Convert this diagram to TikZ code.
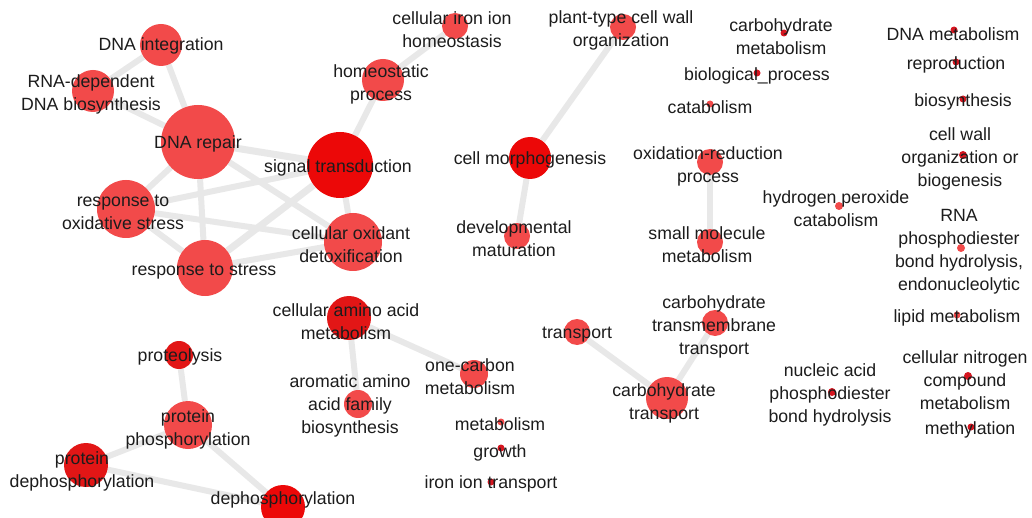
\documentclass[tikz,border=0pt]{standalone}
\usepackage{fontspec}
\setmainfont{Liberation Sans}
\usetikzlibrary{backgrounds}
\definecolor{lred}{RGB}{242,74,74}
\definecolor{dred}{RGB}{236,8,8}
\definecolor{mred}{RGB}{226,22,22}
\definecolor{sred}{RGB}{214,22,32}
\definecolor{edgegray}{RGB}{232,232,232}
\definecolor{txt}{RGB}{28,28,28}
\begin{document}
\begin{tikzpicture}[x=1pt,y=-1pt,
  bub/.style={circle,inner sep=0pt,minimum size=2*#1,fill=lred},
  dk/.style={fill=dred},
  md/.style={fill=mred},
  sm/.style={fill=sred},
  lbl/.style={text=txt,align=center,inner sep=0pt,yshift=-2pt,font=\fontsize{17.7}{23}\selectfont},
  edge/.style={draw=edgegray,line width=6pt}]
\useasboundingbox (0,0) rectangle (1032,518);
% bubbles
\node[bub=21] (dnaint) at (161,45) {};
\node[bub=21] (rnadep) at (93,91) {};
\node[bub=37] (dnarep) at (198,142) {};
\node[bub=33,dk] (sigtr) at (340,165) {};
\node[bub=21] (homeo) at (383,80) {};
\node[bub=13] (ironh) at (455,26) {};
\node[bub=13] (plant) at (623,27) {};
\node[bub=21,dk] (cellm) at (530,158) {};
\node[bub=13] (devm) at (517,236) {};
\node[bub=29] (respox) at (126,209) {};
\node[bub=28] (resps) at (205,268) {};
\node[bub=29] (oxdet) at (353,242) {};
\node[bub=13] (oxred) at (710,162) {};
\node[bub=13] (smallm) at (710,242) {};
\node[bub=3.5,sm] (carbm) at (784,33) {};
\node[bub=3.5,sm] (biop) at (757,73) {};
\node[bub=3.5] (catab) at (710,104) {};
\node[bub=4] (hperox) at (839,206) {};
\node[bub=3.5,sm] (dnamet) at (954,30) {};
\node[bub=3.5,sm] (repro) at (956,62) {};
\node[bub=3.5,sm] (biosyn) at (963,99) {};
\node[bub=4,sm] (cwall) at (963,155) {};
\node[bub=4] (rnaph) at (961,248) {};
\node[bub=3.5] (lipid) at (957,315) {};
\node[bub=4,sm] (cnitro) at (968,376) {};
\node[bub=3.5,sm] (methyl) at (971,427) {};
\node[bub=4,sm] (nucph) at (832,392) {};
\node[bub=13] (carbtm) at (715,323) {};
\node[bub=13] (transp) at (577,332) {};
\node[bub=21] (carbtr) at (667,398) {};
\node[bub=14] (onec) at (474,374) {};
\node[bub=3.5] (metab) at (501,422) {};
\node[bub=3.5,sm] (growth) at (501,448) {};
\node[bub=3.5,sm] (irontr) at (491,482) {};
\node[bub=22,md] (aaa) at (349,318) {};
\node[bub=14] (arom) at (358,404) {};
\node[bub=14,md] (prote) at (179,355) {};
\node[bub=24] (protph) at (188,425) {};
\node[bub=22,md] (protdeph) at (86,465) {};
\node[bub=22,dk] (deph) at (283,507) {};
% edges
\begin{scope}[on background layer]
\fill[white] (0,0) rectangle (1032,518);
\draw[edge] (dnaint) -- (dnarep);
\draw[edge] (rnadep) -- (dnarep);
\draw[edge] (rnadep) -- (dnaint);
\draw[edge,line width=7pt] (dnarep) -- (sigtr);
\draw[edge] (dnarep) -- (respox);
\draw[edge] (dnarep) -- (resps);
\draw[edge] (dnarep) -- (oxdet);
\draw[edge] (respox) -- (sigtr);
\draw[edge] (respox) -- (oxdet);
\draw[edge] (respox) -- (resps);
\draw[edge,line width=7pt] (resps) -- (sigtr);
\draw[edge] (resps) -- (oxdet);
\draw[edge] (sigtr) -- (oxdet);
\draw[edge] (sigtr) -- (homeo);
\draw[edge] (homeo) -- (ironh);
\draw[edge] (cellm) -- (plant);
\draw[edge] (cellm) -- (devm);
\draw[edge] (oxred) -- (smallm);
\draw[edge] (aaa) -- (arom);
\draw[edge] (aaa) -- (onec);
\draw[edge] (transp) -- (carbtr);
\draw[edge] (carbtm) -- (carbtr);
\draw[edge] (prote) -- (protph);
\draw[edge] (protph) -- (protdeph);
\draw[edge] (protph) -- (deph);
\draw[edge] (protdeph) -- (deph);
\end{scope}
% labels
\node[lbl] (dnaint-l) at (161,44) {DNA integration};
\node[lbl] (rnadep-l) at (91,92) {RNA-dependent\\DNA biosynthesis};
\node[lbl] (dnarep-l) at (198,142) {DNA repair};
\node[lbl] (sigtr-l) at (338,166) {signal transduction};
\node[lbl] (homeo-l) at (381,82) {homeostatic\\process};
\node[lbl] (ironh-l) at (452,28) {cellular iron ion\\homeostasis};
\node[lbl] (plant-l) at (621,28) {plant-type cell wall\\organization};
\node[lbl] (cellm-l) at (530,158) {cell morphogenesis};
\node[lbl] (devm-l) at (514,237) {developmental\\maturation};
\node[lbl] (respox-l) at (123,210) {response to\\oxidative stress};
\node[lbl] (resps-l) at (204,270) {response to stress};
\node[lbl] (oxdet-l) at (351,243) {cellular oxidant\\detoxification};
\node[lbl] (oxred-l) at (708,164) {oxidation-reduction\\process};
\node[lbl] (smallm-l) at (707,243) {small molecule\\metabolism};
\node[lbl] (carbm-l) at (781,35) {carbohydrate\\metabolism};
\node[lbl] (biop-l) at (757,74) {biological\_process};
\node[lbl] (catab-l) at (710,105) {catabolism};
\node[lbl] (hperox-l) at (836,207) {hydrogen peroxide\\catabolism};
\node[lbl] (dnamet-l) at (953,32) {DNA metabolism};
\node[lbl] (repro-l) at (956,63) {reproduction};
\node[lbl] (biosyn-l) at (963,100) {biosynthesis};
\node[lbl] (cwall-l) at (960,157) {cell wall\\organization or\\biogenesis};
\node[lbl] (rnaph-l) at (959,250) {RNA\\phosphodiester\\bond hydrolysis,\\endonucleolytic};
\node[lbl] (lipid-l) at (957,316) {lipid metabolism};
\node[lbl] (cnitro-l) at (965,378) {cellular nitrogen\\compound\\metabolism};
\node[lbl] (methyl-l) at (970,428) {methylation};
\node[lbl] (nucph-l) at (830,393) {nucleic acid\\phosphodiester\\bond hydrolysis};
\node[lbl] (carbtm-l) at (714,325) {carbohydrate\\transmembrane\\transport};
\node[lbl] (transp-l) at (577,333) {transport};
\node[lbl] (carbtr-l) at (664,401) {carbohydrate\\transport};
\node[lbl] (onec-l) at (470,375) {one-carbon\\metabolism};
\node[lbl] (metab-l) at (500,422) {metabolism};
\node[lbl] (growth-l) at (500,451) {growth};
\node[lbl] (irontr-l) at (491,482) {iron ion transport};
\node[lbl] (aaa-l) at (346,320) {cellular amino acid\\metabolism};
\node[lbl] (arom-l) at (350,404) {aromatic amino\\acid family\\biosynthesis};
\node[lbl] (prote-l) at (180,355) {proteolysis};
\node[lbl] (protph-l) at (188,427) {protein\\phosphorylation};
\node[lbl] (protdeph-l) at (82,469) {protein\\dephosphorylation};
\node[lbl] (deph-l) at (283,498) {dephosphorylation};
\end{tikzpicture}
\end{document}
